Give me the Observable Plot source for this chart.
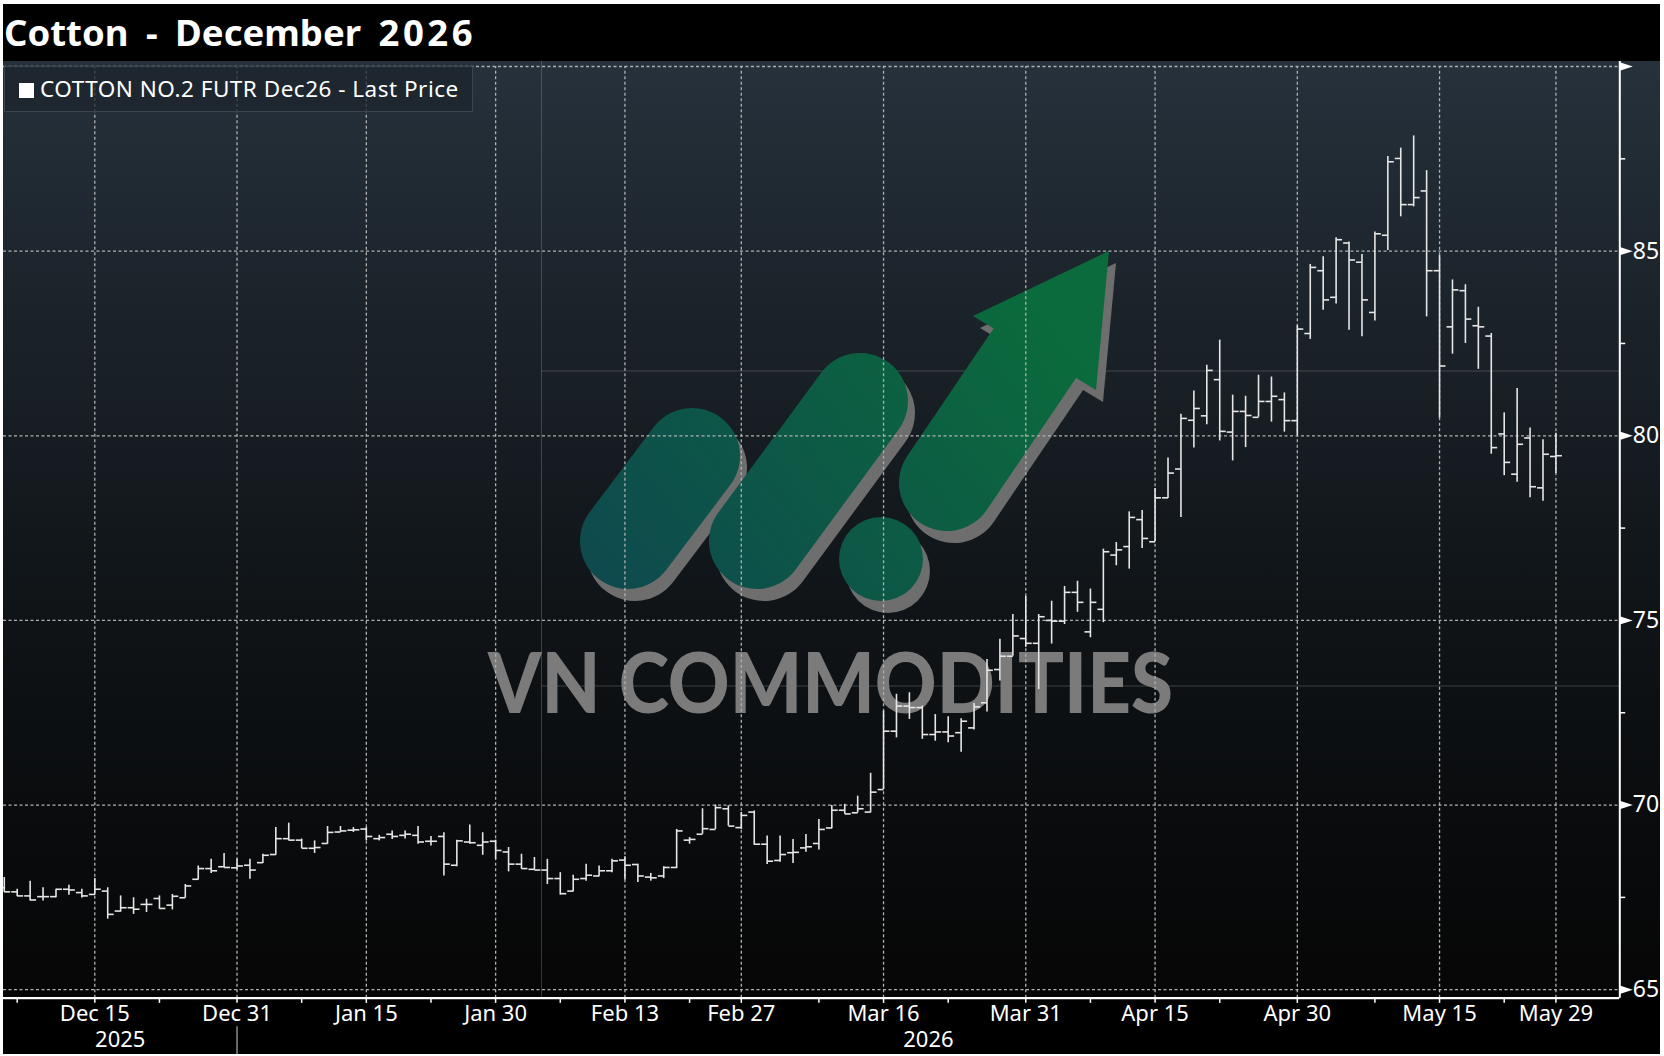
<!DOCTYPE html>
<html>
<head>
<meta charset="utf-8">
<script src="https://cdn.jsdelivr.net/npm/d3@7"></script>
<script src="https://cdn.jsdelivr.net/npm/@observablehq/plot@0.6"></script>
<style>
html,body{margin:0;padding:0;background:#fff;width:1664px;height:1056px;overflow:hidden;}
#wrap{position:absolute;left:3px;top:4px;width:1657px;height:1050px;background:#000;overflow:hidden;}
#plotbg{position:absolute;left:0;top:57px;width:1657px;height:937px;
  background:linear-gradient(to bottom,#26313b 0px,#1b232a 250px,#11161a 500px,#0a0c0e 750px,#060606 937px);}
#wm{position:absolute;left:-3px;top:-4px;}
#chart{position:absolute;left:0;top:57px;}
#title{position:absolute;left:1px;top:0;height:57px;line-height:57px;color:#fff;
  font-family:"Noto Sans";font-weight:bold;font-size:36.5px;word-spacing:8px;white-space:pre;}
#title .yr{letter-spacing:3.5px;}
#legend{position:absolute;left:1px;top:62px;width:469px;height:46px;box-sizing:border-box;
  background:rgba(28,36,44,0.75);border:1px solid #3a444e;color:#fff;
  font-family:"Noto Sans";font-size:22.5px;letter-spacing:0.5px;line-height:44px;white-space:pre;}
#legend .sq{display:inline-block;width:15px;height:15px;background:#fff;margin-left:14px;margin-right:6px;vertical-align:-1px;}
</style>
</head>
<body>
<div id="wrap">
  <div id="plotbg"></div>
  <svg id="wm" width="1664" height="1056" xmlns="http://www.w3.org/2000/svg">
    <defs>
      <linearGradient id="lg" gradientUnits="userSpaceOnUse" x1="620" y1="600" x2="1020" y2="280">
        <stop offset="0" stop-color="#0e4a4e"/>
        <stop offset="1" stop-color="#0b6b3c"/>
      </linearGradient>
    </defs>
    <g stroke="rgba(150,150,150,0.35)" stroke-width="1">
      <line x1="541.5" y1="61" x2="541.5" y2="997"/>
      <line x1="541.5" y1="371" x2="1620" y2="371"/>
      <line x1="541.5" y1="686" x2="1620" y2="686"/>
    </g>
    <g transform="translate(7,12)" stroke="#6e6e6e" fill="#6e6e6e" stroke-linecap="round">
      <line x1="628" y1="541" x2="692" y2="456" stroke-width="96"/>
      <line x1="757" y1="541" x2="860" y2="401" stroke-width="96"/>
      <circle cx="881" cy="559" r="42" stroke="none"/>
      <line x1="947" y1="483" x2="1035" y2="353" stroke-width="96"/>
      <polygon points="973,316 1109,251 1096,390" stroke="none"/>
    </g>
    <g stroke="url(#lg)" fill="url(#lg)" stroke-linecap="round">
      <line x1="628" y1="541" x2="692" y2="456" stroke-width="96"/>
      <line x1="757" y1="541" x2="860" y2="401" stroke-width="96"/>
      <circle cx="881" cy="559" r="42" stroke="none"/>
      <line x1="947" y1="483" x2="1035" y2="353" stroke-width="96"/>
      <polygon points="973,316 1109,251 1096,390" stroke="none"/>
    </g>
    <text x="488" y="713" fill="#7b7b7b" font-family="Lato" font-weight="900" font-size="84"
      textLength="685" lengthAdjust="spacingAndGlyphs">VN COMMODITIES</text>
  </svg>
  <div id="chart"></div>
  <div id="title">Cotton - December <span class="yr">2026</span></div>
  <div id="legend"><span class="sq"></span>COTTON NO.2 FUTR Dec26 - Last Price</div>
</div>
<script>
// ---- data (cents/lb), one entry per trading day ----
const dates = ["2025-12-04","2025-12-05","2025-12-08","2025-12-09","2025-12-10","2025-12-11","2025-12-12",
"2025-12-15","2025-12-16","2025-12-17","2025-12-18","2025-12-19","2025-12-22","2025-12-23","2025-12-24","2025-12-26","2025-12-29","2025-12-30","2025-12-31",
"2026-01-02","2026-01-05","2026-01-06","2026-01-07","2026-01-08","2026-01-09","2026-01-12","2026-01-13","2026-01-14","2026-01-15","2026-01-16","2026-01-20","2026-01-21",
"2026-01-22","2026-01-23","2026-01-26","2026-01-27","2026-01-28","2026-01-29","2026-01-30","2026-02-02","2026-02-03","2026-02-04","2026-02-05","2026-02-06","2026-02-09","2026-02-10","2026-02-11","2026-02-12","2026-02-13",
"2026-02-17","2026-02-18","2026-02-19","2026-02-20","2026-02-23","2026-02-24","2026-02-25","2026-02-26","2026-02-27","2026-03-02","2026-03-03","2026-03-04","2026-03-05","2026-03-06","2026-03-09","2026-03-10","2026-03-11","2026-03-12","2026-03-13",
"2026-03-16","2026-03-17","2026-03-18","2026-03-19","2026-03-20","2026-03-23","2026-03-24","2026-03-25","2026-03-26","2026-03-27","2026-03-30","2026-03-31","2026-04-01","2026-04-02","2026-04-06","2026-04-07","2026-04-08","2026-04-09","2026-04-10","2026-04-13",
"2026-04-14","2026-04-15","2026-04-16","2026-04-17","2026-04-20","2026-04-21","2026-04-22","2026-04-23","2026-04-24","2026-04-27","2026-04-28","2026-04-29","2026-04-30","2026-05-01","2026-05-04","2026-05-05","2026-05-06","2026-05-07","2026-05-08","2026-05-11",
"2026-05-12","2026-05-13","2026-05-14","2026-05-15","2026-05-18","2026-05-19","2026-05-20","2026-05-21","2026-05-22","2026-05-26","2026-05-27","2026-05-28","2026-05-29"];

const open = [67.76,67.65,67.54,67.52,67.52,67.72,67.63,
67.58,67.67,67.13,67.22,67.31,67.47,67.29,67.49,67.99,68.28,68.33,68.30,
68.37,68.44,68.66,69.09,69.05,68.83,68.96,69.27,69.32,69.35,69.09,69.21,69.18,
69.18,69.02,69.15,68.37,69.00,68.91,69.02,68.73,68.40,68.26,68.24,68.01,67.67,68.01,68.08,68.22,68.51,
68.39,68.05,68.08,68.31,69.05,69.21,69.34,69.90,69.39,69.81,68.94,68.50,68.71,68.84,68.96,69.38,69.86,69.79,69.81,
70.42,72.00,72.68,72.64,71.91,71.98,71.96,72.09,72.77,73.67,74.03,74.51,74.38,75.00,74.98,75.76,74.69,75.30,76.77,77.00,
77.73,77.13,78.32,79.10,80.42,80.54,81.52,80.10,80.66,80.50,80.93,80.98,80.41,82.77,84.47,83.75,85.22,84.70,83.34,85.43,
87.51,86.26,86.63,84.47,82.95,83.93,82.98,82.70,80.05,78.96,79.94,78.59,79.44];

const high = [68.04,67.72,67.94,67.76,67.72,67.83,67.72,
68.01,67.76,67.54,67.49,67.45,67.54,67.58,67.85,68.35,68.53,68.69,68.53,
68.53,68.67,69.39,69.51,69.08,69.03,69.42,69.42,69.39,69.39,69.18,69.30,69.30,
69.42,69.15,69.25,69.05,69.46,69.25,69.05,68.85,68.67,68.58,68.53,68.17,68.10,68.40,68.35,68.53,68.60,
68.40,68.15,68.33,69.34,69.12,69.90,70.00,69.98,69.80,69.84,69.16,69.16,69.07,69.20,69.61,69.99,70.02,70.24,70.86,
72.54,73.00,73.04,72.68,72.45,72.39,72.34,72.75,73.94,74.49,75.16,75.65,75.16,75.52,75.92,76.06,75.85,76.93,77.11,77.94,
77.98,78.57,79.40,80.58,81.21,81.91,82.59,81.10,81.07,81.64,81.59,81.16,82.98,84.64,84.85,85.36,85.25,84.91,85.52,87.56,
87.79,88.12,87.18,84.88,84.22,84.09,83.48,82.77,80.62,81.28,80.21,79.89,80.07];

const low = [67.63,67.52,67.40,67.40,67.49,67.56,67.48,
67.56,66.91,67.10,67.04,67.09,67.18,67.16,67.48,67.97,68.15,68.30,68.24,
67.99,68.42,68.64,69.03,68.82,68.69,68.94,69.26,69.26,69.03,69.03,69.07,69.08,
68.94,68.89,68.08,68.33,68.94,68.64,68.53,68.19,68.26,68.24,67.85,67.56,67.65,67.94,68.06,68.17,67.97,
67.90,67.94,68.01,68.28,68.94,69.21,69.34,69.43,69.34,68.91,68.39,68.45,68.42,68.72,68.78,69.36,69.75,69.79,69.79,
70.42,71.82,72.32,71.78,71.73,71.69,71.43,72.03,72.52,73.36,74.03,74.27,73.13,74.36,74.89,75.22,74.53,74.94,76.48,76.39,
76.95,77.13,78.30,77.79,79.67,80.30,79.86,79.32,79.68,80.50,80.37,80.10,80.01,82.61,83.40,83.57,82.86,82.68,83.11,85.02,
85.93,86.20,83.22,80.48,82.21,82.50,81.80,79.50,78.92,78.74,78.32,78.23,78.98];

const close = [67.65,67.54,67.43,67.52,67.72,67.70,67.54,
67.72,67.04,67.22,67.18,67.31,67.20,67.53,67.81,68.28,68.22,68.31,68.35,
68.24,68.64,69.09,69.05,68.83,68.85,69.26,69.30,69.33,69.15,69.12,69.15,69.21,
69.00,69.02,68.40,69.03,68.98,69.00,68.77,68.40,68.28,68.24,68.01,67.60,67.99,68.10,68.22,68.49,68.37,
68.08,68.03,68.31,69.30,69.07,69.36,69.93,69.43,69.72,68.94,68.48,68.66,68.72,68.87,69.34,69.86,69.76,69.90,70.35,
72.00,72.68,72.64,71.91,71.98,71.87,72.27,72.66,73.65,74.03,74.58,74.38,75.10,74.98,75.76,75.49,75.49,76.86,76.91,77.79,
77.22,78.32,78.99,80.47,80.74,81.77,80.12,80.66,80.55,80.93,81.07,80.41,82.89,84.56,83.68,85.31,84.76,83.68,85.47,87.42,
86.26,86.45,84.47,81.89,83.95,83.16,82.95,79.68,79.28,79.77,78.62,79.50,79.46];

const tickDates = ["2025-12-15","2025-12-31","2026-01-15","2026-01-30","2026-02-13","2026-02-27",
  "2026-03-16","2026-03-31","2026-04-15","2026-04-30","2026-05-15","2026-05-29"];
const tickLabels = ["Dec 15","Dec 31","Jan 15","Jan 30","Feb 13","Feb 27","Mar 16","Mar 31","Apr 15","Apr 30","May 15","May 29"];
const minorTickDates = ["2025-12-05","2025-12-22","2026-01-08","2026-01-23","2026-02-06","2026-02-23",
  "2026-03-09","2026-03-23","2026-04-08","2026-04-22","2026-05-08","2026-05-22"];
const yearLabels = ["2025","2026"];
const yearBreakDate = "2025-12-31";
const yGrid = [65,70,75,80,85,90];
const yLabels = [65,70,75,80,85];
const yMinor = [67.5,72.5,77.5,82.5,87.5];

// ---- build ----
const bars = dates.map((d,k)=>({k, date:d, open:open[k], high:high[k], low:low[k], close:close[k]}));
const idx = d => dates.indexOf(d);
const X0 = -0.06, X1 = 124.94, Y0 = 64.77, Y1 = 90;
const TW = 0.46;
const sep = idx(yearBreakDate);
const yearCenters = [(X0+sep)/2, (sep+X1)/2];
const barColor = "#e6e6e6";
const gridStyle = {stroke:"#b0b0b0", strokeWidth:1.3, strokeDasharray:"3,2.5"};
const tri = {draw(ctx){ ctx.moveTo(0,-4.2); ctx.lineTo(13,0); ctx.lineTo(0,4.2); ctx.closePath(); }};

const chart = Plot.plot({
  width:1657, height:993,
  marginLeft:0, marginRight:40.7, marginTop:5, marginBottom:56.3,
  x:{type:"linear", domain:[X0,X1], axis:null},
  y:{type:"linear", domain:[Y0,Y1], axis:null},
  style:{background:"transparent", fontFamily:"Noto Sans", overflow:"visible", color:"#fff"},
  marks:[
    Plot.ruleY(yGrid, {y:d=>d, x1:X0, x2:X1, ...gridStyle}),
    Plot.ruleX(tickDates, {x:idx, y1:Y0, y2:Y1, ...gridStyle}),
    Plot.ruleX(bars, {x:"k", y1:"low", y2:"high", stroke:barColor, strokeWidth:1.6}),
    Plot.link(bars, {x1:d=>d.k-TW, x2:"k", y1:"open", y2:"open", stroke:barColor, strokeWidth:1.6}),
    Plot.link(bars, {x1:"k", x2:d=>d.k+TW, y1:"close", y2:"close", stroke:barColor, strokeWidth:1.6}),
    // right axis
    Plot.ruleX([X1], {x:d=>d, y1:Y0, y2:Y1+5/36.93, stroke:"#fff", strokeWidth:2}),
    Plot.link(yMinor, {x1:()=>X1, x2:()=>X1+0.42, y1:d=>d, y2:d=>d, stroke:"#fff", strokeWidth:1.5}),
    Plot.dot(yGrid, {x:()=>X1, y:d=>d, symbol:tri, r:4, fill:"#fff", stroke:"none"}),
    Plot.text(yLabels, {x:()=>X1, y:d=>d, text:d=>String(d), dx:13, textAnchor:"start", fill:"#fff", fontSize:23}),
    // bottom axis
    Plot.ruleY([Y0], {y:d=>d, x1:X0, x2:X1, stroke:"#fff", strokeWidth:2.2}),
    Plot.ruleX([...tickDates, ...minorTickDates], {x:idx, y1:Y0, y2:Y0-0.14, stroke:"#fff", strokeWidth:1.5}),
    Plot.text(tickDates, {x:idx, y:()=>Y0, text:(d,i)=>tickLabels[i], dy:16, fill:"#fff", fontSize:22}),
    Plot.text(yearLabels, {x:(d,i)=>yearCenters[i], y:()=>Y0, text:d=>d, dy:42, fill:"#fff", fontSize:22}),
    Plot.ruleX([sep], {x:d=>d, y1:Y0-0.77, y2:Y0-1.55, stroke:"#8a8a8a", strokeWidth:1.5})
  ]
});
document.getElementById("chart").appendChild(chart);
</script>
</body>
</html>
